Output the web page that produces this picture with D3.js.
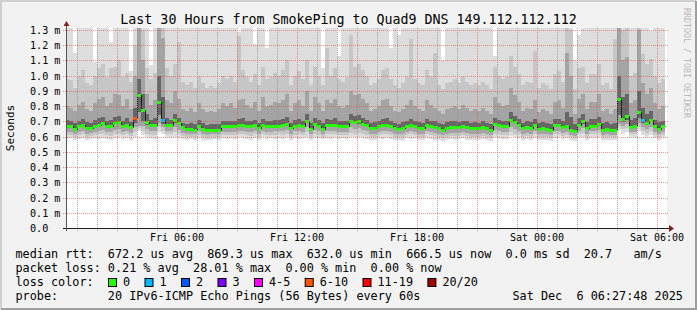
<!DOCTYPE html>
<html lang="en">
<head>
<meta charset="UTF-8" />
<title>SmokePing - Quad9 DNS</title>
<script src="https://cdn.jsdelivr.net/npm/d3@7"></script>
<style>
  body { margin: 0; background: #f2f2f2; }
  svg text { font-family: "DejaVu Sans Mono", monospace; white-space: pre; }
</style>
</head>
<body>
<div id="chart"></div>
<script>
// 12 minute steps, first one starts 00:24 Fri (partly hidden), values in microseconds
var stepStart = Date.UTC(2025, 11, 5, 0, 24);
var stepMinutes = 12;

var median = [
  667, 667, 652, 667, 674, 656, 656, 667, 674, 687,
  667, 667, 689, 693, 667, 678, 661, 720, 870, 772,
  693, 674, 674, 825, 707, 678, 678, 711, 689, 661,
  652, 652, 645, 672, 652, 641, 645, 645, 646, 667,
  667, 667, 667, 678, 678, 667, 667, 674, 656, 678,
  667, 667, 672, 672, 674, 685, 656, 672, 674, 667,
  705, 650, 685, 672, 652, 674, 674, 678, 667, 667,
  667, 705, 693, 700, 685, 674, 656, 656, 667, 674,
  678, 667, 656, 650, 656, 667, 674, 667, 656, 656,
  674, 667, 661, 656, 641, 656, 661, 661, 661, 667,
  661, 656, 656, 656, 661, 656, 641, 685, 674, 667,
  667, 711, 693, 674, 656, 661, 656, 674, 650, 656,
  650, 641, 674, 674, 663, 667, 645, 634, 678, 700,
  657, 672, 672, 685, 645, 652, 641, 641, 848, 717,
  737, 663, 667, 759, 707, 689, 711, 667, 652, 667
];

// smoke: lowest / highest ping and three inner pairs
var pingMin = [
  585, 590, 580, 585, 590, 580, 585, 590, 585, 590,
  585, 580, 590, 595, 585, 590, 580, 600, 640, 610,
  595, 590, 585, 630, 620, 595, 590, 600, 590, 585,
  580, 585, 580, 590, 580, 575, 580, 585, 580, 590,
  585, 590, 585, 595, 590, 585, 580, 590, 580, 595,
  585, 590, 585, 590, 585, 595, 580, 590, 585, 590,
  600, 580, 595, 590, 585, 590, 585, 595, 585, 590,
  585, 600, 595, 600, 590, 585, 580, 580, 590, 585,
  595, 585, 580, 575, 580, 590, 585, 590, 580, 580,
  590, 585, 580, 580, 570, 580, 585, 580, 585, 590,
  580, 580, 575, 580, 585, 580, 570, 600, 590, 585,
  585, 605, 600, 590, 580, 585, 580, 590, 575, 580,
  575, 570, 590, 595, 585, 590, 575, 570, 595, 600,
  580, 590, 590, 600, 575, 580, 575, 575, 645, 620,
  630, 595, 595, 640, 610, 600, 610, 590, 580, 590
];
var pingMax = [
  1400, 1400, 1150, 1400, 1400, 1400, 1400, 1090, 1400, 1400,
  1400, 1220, 1400, 1400, 1400, 1400, 1030, 1400, 1400, 1400,
  1400, 1070, 1400, 1400, 1400, 1400, 1400, 1400, 1400, 1400,
  1400, 1400, 1400, 1400, 1400, 1400, 1400, 1400, 1400, 1400,
  1400, 1400, 1400, 1290, 1400, 1400, 1400, 1210, 1400, 1400,
  1180, 1400, 1400, 1400, 1400, 1400, 1400, 1400, 1400, 1400,
  1400, 1400, 1400, 1400, 1050, 1400, 1400, 1400, 1130, 1400,
  1400, 1400, 1400, 1400, 1400, 1400, 1400, 1400, 1400, 1400,
  1400, 1180, 1400, 1265, 1400, 1400, 1400, 1400, 1400, 1400,
  1400, 1400, 1400, 1400, 1100, 1400, 1400, 1400, 1400, 1400,
  1400, 1400, 1400, 1400, 1400, 1400, 1400, 1130, 1400, 1400,
  1400, 1400, 1400, 1400, 1400, 1400, 1400, 1400, 1400, 1400,
  1400, 1400, 1400, 1400, 1400, 1400, 1400, 1100, 1270, 1400,
  1400, 1400, 1400, 1400, 1400, 1400, 1400, 1400, 1400, 1400,
  1400, 1400, 1400, 1400, 1400, 1400, 1295, 1400, 1400, 1400
];
var low2 = [
  610, 610, 600, 610, 615, 600, 605, 610, 615, 620,
  610, 605, 615, 620, 610, 615, 605, 630, 655, 640,
  620, 610, 610, 660, 640, 615, 615, 630, 615, 605,
  600, 600, 595, 610, 600, 590, 595, 600, 600, 610,
  610, 610, 610, 620, 615, 610, 605, 615, 600, 615,
  610, 610, 610, 615, 610, 620, 600, 610, 615, 610,
  630, 600, 620, 610, 600, 615, 615, 620, 610, 610,
  610, 625, 620, 625, 615, 610, 600, 600, 610, 615,
  620, 610, 600, 595, 600, 610, 615, 610, 600, 600,
  615, 610, 605, 600, 590, 600, 605, 605, 605, 610,
  605, 600, 600, 600, 605, 600, 590, 620, 615, 610,
  610, 630, 620, 615, 600, 605, 600, 615, 595, 600,
  595, 590, 615, 615, 605, 610, 595, 590, 615, 625,
  600, 615, 615, 625, 595, 600, 595, 595, 665, 650,
  655, 615, 615, 665, 640, 625, 635, 610, 600, 610
];
var high2 = [
  980, 970, 920, 1000, 1040, 950, 940, 1000, 1050, 1080,
  990, 1050, 1060, 1100, 990, 1020, 960, 1200, 1400, 1300,
  1050, 980, 1020, 1400, 1400, 1050, 1000, 1080, 1220, 960,
  940, 960, 920, 1000, 950, 920, 930, 920, 950, 1000,
  980, 1000, 960, 1260, 1040, 990, 960, 1010, 940, 1060,
  980, 990, 1020, 1000, 1040, 1100, 940, 1000, 1030, 980,
  1100, 940, 1060, 1000, 940, 1180, 1000, 1050, 980, 960,
  990, 1270, 1060, 1080, 1040, 1000, 940, 950, 980, 1040,
  1050, 980, 940, 920, 950, 990, 1240, 980, 950, 940,
  1040, 990, 1150, 940, 910, 950, 960, 980, 950, 990,
  960, 940, 950, 940, 960, 940, 910, 1060, 1000, 980,
  990, 1130, 1060, 1010, 940, 960, 950, 1160, 920, 950,
  940, 910, 1010, 1030, 960, 1400, 1300, 910, 1050, 1060,
  950, 1010, 1010, 1080, 940, 950, 910, 1240, 1400, 1300,
  1320, 1000, 1020, 1400, 1140, 1080, 1110, 1000, 950, 980
];
var low3 = [
  630, 630, 620, 630, 640, 620, 625, 630, 640, 645,
  630, 630, 645, 650, 630, 640, 625, 660, 670, 670,
  650, 635, 635, 690, 665, 640, 640, 660, 645, 625,
  620, 620, 615, 635, 620, 610, 615, 615, 615, 630,
  630, 630, 630, 640, 640, 630, 630, 635, 620, 640,
  630, 630, 635, 635, 635, 645, 620, 635, 635, 630,
  660, 615, 645, 635, 620, 635, 635, 640, 630, 630,
  630, 660, 650, 655, 645, 635, 620, 620, 630, 635,
  640, 630, 620, 615, 620, 630, 635, 630, 620, 620,
  635, 630, 625, 620, 610, 620, 625, 625, 625, 630,
  625, 620, 620, 620, 625, 620, 610, 645, 635, 630,
  630, 665, 650, 635, 620, 625, 620, 635, 615, 620,
  615, 610, 635, 635, 625, 630, 610, 605, 640, 655,
  620, 635, 635, 645, 610, 615, 610, 610, 680, 670,
  680, 630, 630, 690, 660, 650, 660, 630, 620, 630
];
var high3 = [
  800, 790, 770, 810, 830, 780, 770, 820, 850, 860,
  800, 820, 880, 870, 800, 850, 780, 1000, 1400, 1100,
  880, 810, 840, 1400, 1250, 840, 820, 900, 850, 780,
  770, 790, 760, 820, 780, 760, 770, 760, 780, 820,
  800, 820, 790, 840, 850, 810, 790, 830, 770, 860,
  800, 810, 830, 820, 840, 880, 770, 820, 840, 800,
  900, 770, 860, 820, 770, 840, 820, 850, 800, 790,
  810, 900, 870, 880, 850, 820, 770, 780, 800, 840,
  850, 800, 770, 760, 780, 810, 840, 800, 780, 770,
  840, 810, 790, 770, 750, 780, 790, 800, 780, 810,
  790, 770, 780, 770, 790, 770, 750, 860, 820, 800,
  810, 920, 870, 830, 770, 790, 780, 840, 760, 780,
  770, 750, 830, 840, 790, 1150, 1000, 750, 850, 880,
  780, 830, 830, 880, 770, 780, 750, 780, 1400, 1100,
  1120, 820, 840, 1300, 950, 880, 920, 820, 780, 800
];
var low4 = [
  655, 655, 640, 655, 660, 645, 645, 655, 660, 675,
  655, 655, 675, 680, 655, 665, 650, 690, 760, 700,
  675, 660, 660, 740, 685, 665, 665, 690, 675, 650,
  640, 640, 635, 660, 640, 630, 635, 635, 635, 655,
  655, 655, 655, 665, 665, 655, 655, 660, 645, 665,
  655, 655, 660, 660, 660, 670, 645, 660, 660, 655,
  690, 640, 670, 660, 640, 660, 660, 665, 655, 655,
  655, 690, 680, 685, 670, 660, 645, 645, 655, 660,
  665, 655, 645, 640, 645, 655, 660, 655, 645, 645,
  660, 655, 650, 645, 630, 645, 650, 650, 650, 655,
  650, 645, 645, 645, 650, 645, 630, 670, 660, 655,
  655, 695, 680, 660, 645, 650, 645, 660, 640, 645,
  640, 630, 660, 660, 650, 655, 635, 625, 665, 685,
  645, 660, 660, 670, 635, 640, 630, 630, 740, 695,
  710, 650, 655, 720, 690, 675, 695, 655, 640, 655
];
var high4 = [
  710, 700, 690, 705, 715, 695, 690, 710, 720, 730,
  705, 710, 730, 735, 705, 720, 695, 790, 980, 880,
  750, 710, 720, 1000, 860, 720, 710, 750, 725, 690,
  685, 690, 680, 710, 690, 675, 680, 680, 685, 705,
  700, 705, 700, 715, 720, 705, 700, 710, 690, 715,
  700, 705, 710, 710, 715, 730, 690, 710, 715, 705,
  750, 690, 725, 710, 690, 715, 710, 720, 705, 700,
  705, 750, 735, 740, 725, 710, 690, 695, 705, 715,
  720, 705, 690, 685, 695, 705, 715, 705, 695, 690,
  715, 705, 700, 690, 680, 695, 700, 700, 695, 705,
  700, 690, 695, 690, 700, 690, 680, 725, 710, 705,
  705, 760, 735, 715, 690, 700, 695, 715, 690, 695,
  690, 680, 715, 715, 700, 760, 730, 680, 720, 750,
  695, 715, 715, 730, 690, 695, 680, 690, 1000, 860,
  880, 710, 720, 900, 790, 750, 770, 710, 695, 705
];

// steps with packet loss (index into the step arrays) and their loss bucket
var lossSteps = [17, 24, 144];
var lossBuckets = [5, 1, 1];

var lossLabels = ["0", "1", "2", "3", "4-5", "6-10", "11-19", "20/20"];
var lossColors = ["#26ff00", "#00b8ff", "#0059ff", "#7e00ff", "#ff00ff", "#ff5500", "#ff0000", "#a00000"];

var yTicks = [0, 0.1, 0.2, 0.3, 0.4, 0.5, 0.6, 0.7, 0.8, 0.9, 1.0, 1.1, 1.2, 1.3];
var xLabelTimes = [
  Date.UTC(2025, 11, 5, 6), Date.UTC(2025, 11, 5, 12), Date.UTC(2025, 11, 5, 18),
  Date.UTC(2025, 11, 6, 0), Date.UTC(2025, 11, 6, 6)
];

var legendRtt = "median rtt:  672.2 us avg  869.3 us max  632.0 us min  666.5 us now  0.0 ms sd  20.7   am/s";
var legendLoss = "packet loss: 0.21 % avg  28.01 % max  0.00 % min  0.00 % now";
var legendProbe = "probe:       20 IPv6-ICMP Echo Pings (56 Bytes) every 60s";
var legendDate = "Sat Dec  6 06:27:48 2025";
var title = "Last 30 Hours from SmokePing to Quad9 DNS 149.112.112.112";

var W = 697, H = 310;
var plotL = 67, plotR = 667, plotT = 28, plotB = 228;

var svg = d3.select("#chart").append("svg")
  .attr("width", W).attr("height", H);

var x = d3.scaleUtc()
  .domain([new Date(Date.UTC(2025, 11, 5, 0, 30)), new Date(Date.UTC(2025, 11, 6, 6, 30))])
  .range([plotL, plotR]);
var y = d3.scaleLinear().domain([0, 1.3132]).range([plotB, plotT]);

// background + frame
svg.append("rect").attr("width", W).attr("height", H).attr("fill", "#f2f2f2");
svg.append("path").attr("d", "M1,309 V1 H696").attr("fill", "none").attr("stroke", "#cfcfcf").attr("stroke-width", 2);
svg.append("path").attr("d", "M1,309 H696 V1").attr("fill", "none").attr("stroke", "#9e9e9e").attr("stroke-width", 2);

svg.append("rect").attr("x", plotL).attr("y", plotT).attr("width", plotR - plotL).attr("height", plotB - plotT).attr("fill", "#fff");

svg.append("clipPath").attr("id", "plot")
  .append("rect").attr("x", plotL).attr("y", plotT).attr("width", plotR - plotL).attr("height", plotB - plotT);

var steps = d3.range(median.length).map(function (i) {
  return {
    t0: new Date(stepStart + i * stepMinutes * 60000),
    t1: new Date(stepStart + (i + 1) * stepMinutes * 60000),
    i: i
  };
});

var plot = svg.append("g").attr("clip-path", "url(#plot)");

var bands = [
  { lo: pingMin, hi: pingMax, color: "#dddddd" },
  { lo: low2, hi: high2, color: "#c6c6c6" },
  { lo: low3, hi: high3, color: "#a4a4a4" },
  { lo: low4, hi: high4, color: "#666666" }
];

bands.forEach(function (b) {
  plot.append("g").selectAll("rect")
    .data(steps)
    .join("rect")
    .attr("x", function (d) { return Math.round(x(d.t0)); })
    .attr("width", function (d) { return Math.round(x(d.t1)) - Math.round(x(d.t0)); })
    .attr("y", function (d) { return Math.round(y(b.hi[d.i] / 1000)); })
    .attr("height", function (d) { return Math.round(y(b.lo[d.i] / 1000)) - Math.round(y(b.hi[d.i] / 1000)); })
    .attr("fill", b.color)
    .attr("shape-rendering", "crispEdges");
});

// median: thin dark step line + coloured loss bars
var medLine = d3.line()
  .x(function (d) { return Math.round(x(d.t)) + 0.5; })
  .y(function (d) { return Math.round(y(d.v / 1000)) + 0.5; })
  .curve(d3.curveStepAfter);
var medPts = steps.map(function (d) { return { t: d.t0, v: median[d.i] }; });
medPts.push({ t: steps[steps.length - 1].t1, v: median[median.length - 1] });
plot.append("path").datum(medPts)
  .attr("d", medLine).attr("fill", "none").attr("stroke", "#202020").attr("stroke-width", 1);

plot.append("g").selectAll("rect")
  .data(steps)
  .join("rect")
  .attr("x", function (d) { return Math.round(x(d.t0)); })
  .attr("width", function (d) { return Math.round(x(d.t1)) - Math.round(x(d.t0)); })
  .attr("y", function (d) { return Math.round(y(median[d.i] / 1000)) - 1; })
  .attr("height", 3)
  .attr("fill", function (d) {
    var k = lossSteps.indexOf(d.i);
    return lossColors[k < 0 ? 0 : lossBuckets[k]];
  })
  .attr("shape-rendering", "crispEdges");

// grid on top
var grid = svg.append("g").attr("shape-rendering", "crispEdges");
d3.utcHour.range(x.domain()[0], x.domain()[1]).forEach(function (t) {
  var px = Math.round(x(t)) + 0.5;
  var major = t.getUTCHours() % 3 === 0;
  grid.append("line")
    .attr("x1", px).attr("x2", px).attr("y1", plotT).attr("y2", plotB + 3)
    .attr("stroke", major ? "rgba(222,79,79,0.6)" : "rgba(143,143,143,0.75)")
    .attr("stroke-dasharray", "1,1");
});
yTicks.slice(1).forEach(function (v) {
  var py = Math.round(y(v)) + 0.5;
  grid.append("line")
    .attr("x1", plotL - 4).attr("x2", plotR + 1).attr("y1", py).attr("y2", py)
    .attr("stroke", "rgba(222,79,79,0.6)")
    .attr("stroke-dasharray", "1,1");
});

// axes
svg.append("line").attr("x1", plotL - 4).attr("x2", plotR + 4).attr("y1", plotB + 0.5).attr("y2", plotB + 0.5)
  .attr("stroke", "#1f1f1f");
svg.append("line").attr("x1", plotL - 0.5).attr("x2", plotL - 0.5).attr("y1", plotB + 3).attr("y2", plotT - 4)
  .attr("stroke", "#555");
svg.append("path").attr("d", "M" + (plotR + 2) + "," + (plotB - 3) + " L" + (plotR + 7) + "," + (plotB + 0.5) + " L" + (plotR + 2) + "," + (plotB + 4) + "Z")
  .attr("fill", "#801f1f");
svg.append("path").attr("d", "M" + (plotL - 3.5) + "," + (plotT - 2) + " L" + (plotL - 0.5) + "," + (plotT - 7) + " L" + (plotL + 2.5) + "," + (plotT - 2) + "Z")
  .attr("fill", "#801f1f");

// tick labels
svg.append("g").selectAll("text")
  .data(yTicks)
  .join("text")
  .attr("x", 30)
  .attr("y", function (d) { return Math.round(y(d)) + 4; })
  .attr("font-size", "10.1px")
  .text(function (d) { return d === 0 ? "0.0" : d.toFixed(1) + " m"; });

var fmt = d3.utcFormat("%a %H:%M");
svg.append("g").selectAll("text")
  .data(xLabelTimes)
  .join("text")
  .attr("x", function (d) { return x(new Date(d)); })
  .attr("y", 241)
  .attr("text-anchor", "middle")
  .attr("font-size", "10px")
  .text(function (d) { return fmt(new Date(d)); });

svg.append("text")
  .attr("transform", "translate(14,128) rotate(-90)")
  .attr("text-anchor", "middle")
  .attr("font-size", "11px")
  .text("Seconds");

svg.append("text")
  .attr("transform", "translate(684,8) rotate(90)")
  .attr("font-size", "8.3px")
  .attr("fill", "#b8b8b8")
  .text("RRDTOOL / TOBI OETIKER");

svg.append("text")
  .attr("x", W / 2).attr("y", 24)
  .attr("text-anchor", "middle")
  .attr("font-size", "13.3px")
  .text(title);

// legend
var lx = 15.5, lfs = "11.8px", cw = 7.1;
svg.append("text").attr("x", lx).attr("y", 257.5).attr("font-size", lfs).text(legendRtt);
svg.append("text").attr("x", lx).attr("y", 271.5).attr("font-size", lfs).text(legendLoss);
svg.append("text").attr("x", lx).attr("y", 285.5).attr("font-size", lfs).text("loss color:");
svg.append("text").attr("x", lx).attr("y", 299.5).attr("font-size", lfs).text(legendProbe);
svg.append("text").attr("x", lx + 70 * cw).attr("y", 299.5).attr("font-size", lfs).text(legendDate);

var bx = 108.5;
lossLabels.forEach(function (lab, i) {
  svg.append("rect").attr("x", bx).attr("y", 278.5).attr("width", 8).attr("height", 8)
    .attr("fill", lossColors[i]).attr("stroke", "#000").attr("stroke-width", 1);
  svg.append("text").attr("x", bx + 14.5).attr("y", 285.5).attr("font-size", lfs).text(lab);
  bx = bx + 14.5 + (lab.length + 2) * cw + 0.7;
});
</script>
</body>
</html>
